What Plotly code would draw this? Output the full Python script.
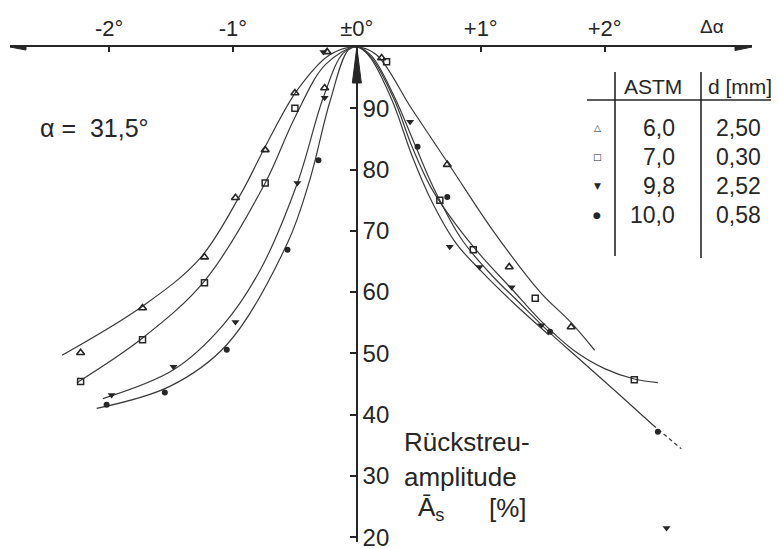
import plotly.graph_objects as go

# ---------------- data ----------------
x_tickvals = [-2, -1, 0, 1, 2]
x_ticktext = ["-2°", "-1°", "±0°", "+1°", "+2°"]
y_tickvals = [20, 30, 40, 50, 60, 70, 80, 90]

astm = ["6,0", "7,0", "9,8", "10,0"]
d_mm = ["2,50", "0,30", "2,52", "0,58"]
legend_glyphs = ["△", "□", "▼", "●"]

# measured points  (Δα in degrees, backscatter amplitude in %)
pts_60_x = [-2.23, -1.73, -1.23, -0.98, -0.74, -0.50, -0.26, -0.24, 0.20, 0.73, 1.23, 1.73]
pts_60_y = [50.1, 57.4, 65.7, 75.4, 83.2, 92.5, 93.3, 99.2, 98.2, 80.8, 64.1, 54.3]

pts_70_x = [-2.23, -1.73, -1.23, -0.74, -0.50, 0.24, 0.67, 0.94, 1.44, 2.24]
pts_70_y = [45.4, 52.2, 61.5, 77.8, 90.0, 97.6, 75.0, 66.9, 59.0, 45.7]

pts_98_x = [-1.98, -1.48, -0.98, -0.48, -0.26, -0.27, 0.43, 0.75, 0.99, 1.25, 1.49, 2.50]
pts_98_y = [43.2, 47.8, 55.1, 77.8, 91.7, 99.2, 87.8, 67.4, 64.1, 60.8, 54.6, 21.5]

pts_100_x = [-2.02, -1.55, -1.05, -0.56, -0.31, 0.49, 0.73, 1.56, 2.43]
pts_100_y = [41.6, 43.6, 50.6, 66.9, 81.5, 83.7, 75.5, 53.5, 37.2]

# hand-drawn fit curves
fit_60_x = [-2.38, -1.73, -1.27, -0.94, -0.72, -0.48, -0.22, 0,
            0.16, 0.44, 0.77, 1.1, 1.48, 1.73, 1.92]
fit_60_y = [49.7, 57.7, 65.4, 75.9, 84.5, 93.0, 98.7, 100,
            98.7, 90.0, 80.0, 70.0, 60.0, 55.0, 50.5]

fit_70_x = [-2.26, -1.73, -1.23, -0.74, -0.50, -0.25, 0,
            0.12, 0.3, 0.45, 0.6, 0.8, 1.0, 1.25, 1.5, 1.75, 2.0, 2.24, 2.43]
fit_70_y = [45.2, 52.5, 61.8, 77.8, 88.5, 97.2, 100,
            98.2, 91.5, 83.5, 77.0, 71.0, 66.0, 60.5, 55.0, 50.5, 47.5, 45.8, 45.2]

fit_98_x = [-2.05, -1.48, -1.08, -0.78, -0.48, -0.27, -0.11, 0,
            0.1, 0.28, 0.45, 0.6, 0.8, 1.0, 1.25, 1.55]
fit_98_y = [42.6, 47.3, 54.6, 63.6, 77.8, 91.8, 99.0, 100,
            98.5, 91.5, 82.0, 75.0, 68.0, 63.5, 58.5, 53.0]

fit_100_x = [-2.1, -1.51, -1.05, -0.56, -0.38, -0.22, -0.07, 0,
             0.12, 0.3, 0.47, 0.62, 0.85, 1.1, 1.3, 1.55, 1.8, 2.1, 2.39]
fit_100_y = [41.0, 44.6, 51.4, 68.0, 78.3, 90.9, 99.5, 100,
             98.5, 92.0, 84.0, 77.0, 68.5, 62.5, 58.5, 53.5, 49.0, 43.6, 38.3]
ext_100_x = [2.39, 2.62]
ext_100_y = [38.3, 34.4]

X_RANGE = [-2.80, 3.19]
Y_RANGE = [19.2, 100]

# ---------------- style ----------------
INK = "#262626"
LINE = "#3a3a3a"
FONT = "Liberation Sans, Arial, sans-serif"
# the page body adds an 8px margin, so the figure is 8px smaller each way
W, H = 771, 541
ML, MR, MT, MB = 2, 27, 39, 7
# plot area in window pixels: x 10..752, y 47..542
WL, WT, PW, PH = 10, 47, W - ML - MR, H - MT - MB


def pxx(xp):
    return (xp - WL) / PW


def pxy(yp):
    return 1 - (yp - WT) / PH


fig = go.Figure()

fits = [(fit_60_x, fit_60_y), (fit_70_x, fit_70_y), (fit_98_x, fit_98_y), (fit_100_x, fit_100_y)]
for fx, fy in fits:
    fig.add_trace(go.Scatter(x=fx, y=fy, mode="lines",
                             line=dict(color=LINE, width=1.2, shape="spline", smoothing=1.0),
                             hoverinfo="skip", showlegend=False, cliponaxis=False))
fig.add_trace(go.Scatter(x=ext_100_x, y=ext_100_y, mode="lines",
                         line=dict(color=LINE, width=1.2, dash="4px,3px"),
                         showlegend=False, cliponaxis=False))

markers = [
    (pts_60_x, pts_60_y, dict(symbol="triangle-up-open", size=7, color=INK, line=dict(width=1.6, color=INK))),
    (pts_70_x, pts_70_y, dict(symbol="square-open", size=6, color=INK, line=dict(width=1.5, color=INK))),
    (pts_98_x, pts_98_y, dict(symbol="triangle-down", size=7, color=INK)),
    (pts_100_x, pts_100_y, dict(symbol="circle", size=6, color=INK)),
]
for (mx, my, mk), name in zip(markers, astm):
    fig.add_trace(go.Scatter(x=mx, y=my, mode="markers", marker=mk, name=name,
                             showlegend=False, cliponaxis=False))

# table (legend)
ann = []
ann.append(dict(x=pxx(653), y=pxy(87), text="ASTM", font=dict(size=21, color=INK, family=FONT)))
ann.append(dict(x=pxx(740), y=pxy(87), text="d [mm]", font=dict(size=21, color=INK, family=FONT)))
rows_y = [128, 157, 186, 215]
for i in range(4):
    ann.append(dict(x=pxx(677), y=pxy(rows_y[i]), text=astm[i], xanchor="right"))
    ann.append(dict(x=pxx(738), y=pxy(rows_y[i]), text=d_mm[i]))
    ann.append(dict(x=pxx(597), y=pxy(rows_y[i]), text=legend_glyphs[i],
                    font=dict(size=9, color=INK, family="DejaVu Sans")))

ann.append(dict(x=pxx(38), y=pxy(128), text="α =  31,5°", xanchor="left", font=dict(size=25, color=INK, family=FONT)))
ann.append(dict(x=pxx(712), y=pxy(27), text="Δα", font=dict(size=19, color=INK, family=FONT)))
ann.append(dict(x=pxx(402), y=pxy(442), text="Rückstreu-", xanchor="left", font=dict(size=26, color=INK, family=FONT)))
ann.append(dict(x=pxx(402), y=pxy(477), text="amplitude", xanchor="left", font=dict(size=26, color=INK, family=FONT)))
ann.append(dict(x=pxx(416), y=pxy(508), text="Ā<sub>s</sub>", xanchor="left", font=dict(size=26, color=INK, family=FONT)))
ann.append(dict(x=pxx(487), y=pxy(508), text="[%]", xanchor="left", font=dict(size=26, color=INK, family=FONT)))

annotations = []
for a in ann:
    base = dict(xref="paper", yref="paper", showarrow=False, xanchor="center", yanchor="middle",
                font=dict(size=23, color=INK, family=FONT))
    base.update(a)
    annotations.append(base)

shapes = [
    dict(type="line", xref="paper", yref="paper", x0=pxx(587), x1=pxx(779), y0=pxy(100), y1=pxy(100),
         line=dict(color=INK, width=1.6)),
    dict(type="line", xref="paper", yref="paper", x0=pxx(615), x1=pxx(615), y0=pxy(72), y1=pxy(256),
         line=dict(color=INK, width=1.6)),
    dict(type="line", xref="paper", yref="paper", x0=pxx(701), x1=pxx(701), y0=pxy(72), y1=pxy(258),
         line=dict(color=INK, width=1.6)),
    # axis arrowheads
    dict(type="path", xref="x", yref="y", xsizemode="pixel", ysizemode="pixel",
         xanchor=X_RANGE[0], yanchor=100, path="M0,0 L16,3 L16,-3 Z",
         fillcolor=INK, line=dict(color=INK, width=1)),
    dict(type="path", xref="x", yref="y", xsizemode="pixel", ysizemode="pixel",
         xanchor=X_RANGE[1], yanchor=100, path="M0,0 L-17,3.5 L-17,-3.5 Z",
         fillcolor=INK, line=dict(color=INK, width=1)),
    dict(type="path", xref="x", yref="y", xsizemode="pixel", ysizemode="pixel",
         xanchor=0, yanchor=100, path="M0,0 L-4.5,-36 L4.5,-36 Z",
         fillcolor=INK, line=dict(color=INK, width=1)),
]

zero_pos = (0 - X_RANGE[0]) / (X_RANGE[1] - X_RANGE[0])

fig.update_layout(
    width=W, height=H,
    margin=dict(l=ML, r=MR, t=MT, b=MB, autoexpand=False),
    paper_bgcolor="white", plot_bgcolor="white",
    showlegend=False,
    font=dict(family=FONT, color=INK),
    xaxis=dict(range=X_RANGE, side="top", showline=True, linecolor=INK, linewidth=1.8,
               showgrid=False, zeroline=False, tickvals=x_tickvals, ticktext=x_ticktext,
               ticks="inside", ticklen=5, tickwidth=1.6, tickcolor=INK, automargin=False,
               ticklabeloverflow="allow",
               tickfont=dict(size=22, color=INK, family=FONT)),
    yaxis=dict(range=Y_RANGE, anchor="free", position=zero_pos, side="right", showline=True,
               linecolor=INK, linewidth=1.8, showgrid=False, zeroline=False, tickvals=y_tickvals,
               ticks="inside", ticklen=6, tickwidth=1.6, tickcolor=INK, automargin=False,
               ticklabeloverflow="allow",
               tickfont=dict(size=24, color=INK, family=FONT)),
    annotations=annotations,
    shapes=shapes,
)

fig.write_html("out.html")
